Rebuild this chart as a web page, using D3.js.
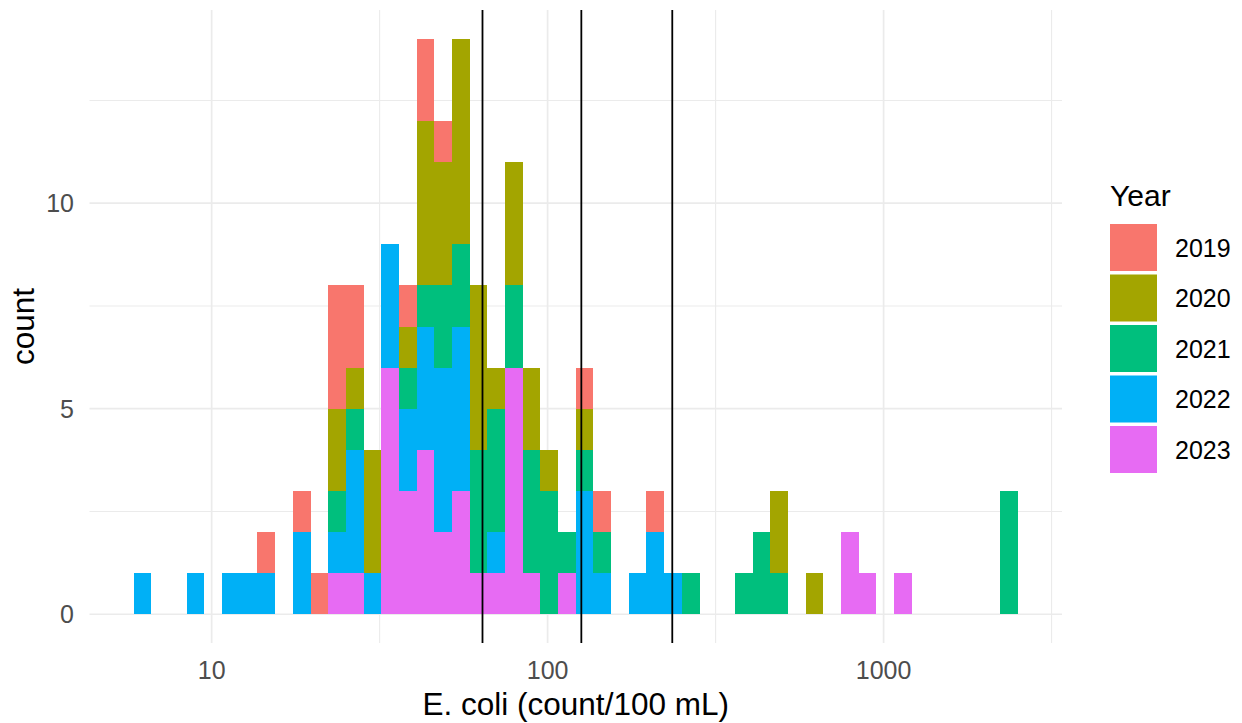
<!DOCTYPE html>
<html>
<head>
<meta charset="utf-8">
<script src="https://cdn.jsdelivr.net/npm/d3@7"></script>
<style>
  body { margin: 0; background: #fff; }
  text { font-family: "Liberation Sans", Arial, sans-serif; }
</style>
</head>
<body>
<div id="chart"></div>
<script>
// histogram bins (log10 units): left edge of first bin, bin width, 50 bins
const binLo = 0.768
const binWidth = 0.05263
const nBins = 50

const years = ["2019", "2020", "2021", "2022", "2023"]
const colors = ["#F8766D", "#A3A500", "#00BF7D", "#00B0F6", "#E76BF3"]

// counts per bin, one list per year
const c2019 = [0,0,0,0,0, 0,0,1,0,1, 1,3,2,0,0, 1,2,1,0,0, 0,0,0,0,0, 1,1,0,0,1, 0,0,0,0,0, 0,0,0,0,0, 0,0,0,0,0, 0,0,0,0,0]
const c2020 = [0,0,0,0,0, 0,0,0,0,0, 0,2,1,3,0, 1,4,3,5,4, 1,3,2,1,0, 1,0,0,0,0, 0,0,0,0,0, 0,2,0,1,0, 0,0,0,0,0, 0,0,0,0,0]
const c2021 = [0,0,0,0,0, 0,0,0,0,0, 0,1,1,0,0, 1,1,2,2,3, 3,2,3,3,1, 1,1,0,0,0, 0,1,0,0,1, 2,1,0,0,0, 0,0,0,0,0, 0,0,0,0,3]
const c2022 = [1,0,0,1,0, 1,1,1,0,2, 0,1,3,1,3, 2,3,4,4,0, 1,0,0,0,0, 3,1,0,1,2, 1,0,0,0,0, 0,0,0,0,0, 0,0,0,0,0, 0,0,0,0,0]
const c2023 = [0,0,0,0,0, 0,0,0,0,0, 0,1,1,0,6, 3,4,2,3,1, 1,6,1,0,1, 0,0,0,0,0, 0,0,0,0,0, 0,0,0,0,0, 2,1,0,1,0, 0,0,0,0,0]
const counts = [c2019, c2020, c2021, c2022, c2023]

// reference lines (count/100 mL)
const thresholds = [64, 126, 235]

const xTicks = [10, 100, 1000]
const yTicks = [0, 5, 10]
const yMinor = [2.5, 7.5, 12.5]
const xMinor = [Math.pow(10, 1.5), Math.pow(10, 2.5), Math.pow(10, 3.5)]

const W = 1242, H = 723
const panel = {left: 89.5, right: 1062, top: 10, bottom: 643}

const svg = d3.select("#chart")
  .append("svg")
  .attr("width", W)
  .attr("height", H)

// table for the stack
const table = d3.range(nBins).map(k => {
  const row = {k: k}
  years.forEach((y, i) => row[y] = counts[i][k])
  return row
})

const hiEdge = binLo + nBins * binWidth
const pad = (hiEdge - binLo) * 0.05
const x = d3.scaleLog()
  .domain([Math.pow(10, binLo - pad), Math.pow(10, hiEdge + pad)])
  .range([panel.left, panel.right])

const maxCount = d3.max(table, d => d3.sum(years, y => d[y]))
const y = d3.scaleLinear()
  .domain([-maxCount * 0.05, maxCount * 1.05])
  .range([panel.bottom, panel.top])

// grid
const grid = svg.append("g")
grid.selectAll(".ymin").data(yMinor).join("line")
  .attr("x1", panel.left).attr("x2", panel.right)
  .attr("y1", d => y(d)).attr("y2", d => y(d))
  .attr("stroke", "#ebebeb").attr("stroke-width", 1.1)
grid.selectAll(".xmin").data(xMinor.filter(v => x(v) > panel.left && x(v) < panel.right)).join("line")
  .attr("x1", d => x(d)).attr("x2", d => x(d))
  .attr("y1", panel.top).attr("y2", panel.bottom)
  .attr("stroke", "#ebebeb").attr("stroke-width", 1.1)
grid.selectAll(".ymaj").data(yTicks).join("line")
  .attr("x1", panel.left).attr("x2", panel.right)
  .attr("y1", d => y(d)).attr("y2", d => y(d))
  .attr("stroke", "#ebebeb").attr("stroke-width", 1.7)
grid.selectAll(".xmaj").data(xTicks).join("line")
  .attr("x1", d => x(d)).attr("x2", d => x(d))
  .attr("y1", panel.top).attr("y2", panel.bottom)
  .attr("stroke", "#ebebeb").attr("stroke-width", 1.7)

// stacked bars, 2023 at the bottom
const stacked = d3.stack().keys(years.slice().reverse())(table)
const colorOf = d3.scaleOrdinal().domain(years).range(colors)

svg.append("g")
  .attr("shape-rendering", "crispEdges")
  .selectAll("g")
  .data(stacked)
  .join("g")
    .attr("fill", d => colorOf(d.key))
  .selectAll("rect")
  .data(d => d.filter(s => s[1] > s[0]))
  .join("rect")
    .attr("x", d => x(Math.pow(10, binLo + d.data.k * binWidth)))
    .attr("width", d => x(Math.pow(10, binLo + (d.data.k + 1) * binWidth)) - x(Math.pow(10, binLo + d.data.k * binWidth)))
    .attr("y", d => y(d[1]))
    .attr("height", d => y(d[0]) - y(d[1]))

// vertical reference lines
svg.append("g")
  .selectAll("line")
  .data(thresholds)
  .join("line")
    .attr("x1", d => x(d)).attr("x2", d => x(d))
    .attr("y1", panel.top).attr("y2", panel.bottom)
    .attr("stroke", "#000").attr("stroke-width", 1.8)

// axis labels
svg.append("g")
  .selectAll("text")
  .data(xTicks)
  .join("text")
    .attr("x", d => x(d))
    .attr("y", 679)
    .attr("text-anchor", "middle")
    .attr("font-size", 25)
    .attr("fill", "#4d4d4d")
    .text(d => d)

svg.append("g")
  .selectAll("text")
  .data(yTicks)
  .join("text")
    .attr("x", 74)
    .attr("y", d => y(d))
    .attr("dy", "0.36em")
    .attr("text-anchor", "end")
    .attr("font-size", 25)
    .attr("fill", "#4d4d4d")
    .text(d => d)

svg.append("text")
  .attr("x", (panel.left + panel.right) / 2)
  .attr("y", 715)
  .attr("text-anchor", "middle")
  .attr("font-size", 31.5)
  .attr("fill", "#000")
  .text("E. coli (count/100 mL)")

svg.append("text")
  .attr("transform", "translate(34," + ((panel.top + panel.bottom) / 2) + ") rotate(-90)")
  .attr("text-anchor", "middle")
  .attr("font-size", 31.5)
  .attr("fill", "#000")
  .text("count")

// legend
const legend = svg.append("g").attr("transform", "translate(1110,0)")
legend.append("text")
  .attr("x", 0).attr("y", 206)
  .attr("font-size", 30)
  .text("Year")

const item = legend.selectAll(".item")
  .data(years)
  .join("g")
  .attr("transform", (d, i) => "translate(0," + (224 + i * 50.5) + ")")
item.append("rect")
  .attr("width", 47).attr("height", 47)
  .attr("fill", d => colorOf(d))
item.append("text")
  .attr("x", 65).attr("y", 23.5)
  .attr("dy", "0.36em")
  .attr("font-size", 25)
  .text(d => d)
</script>
</body>
</html>
